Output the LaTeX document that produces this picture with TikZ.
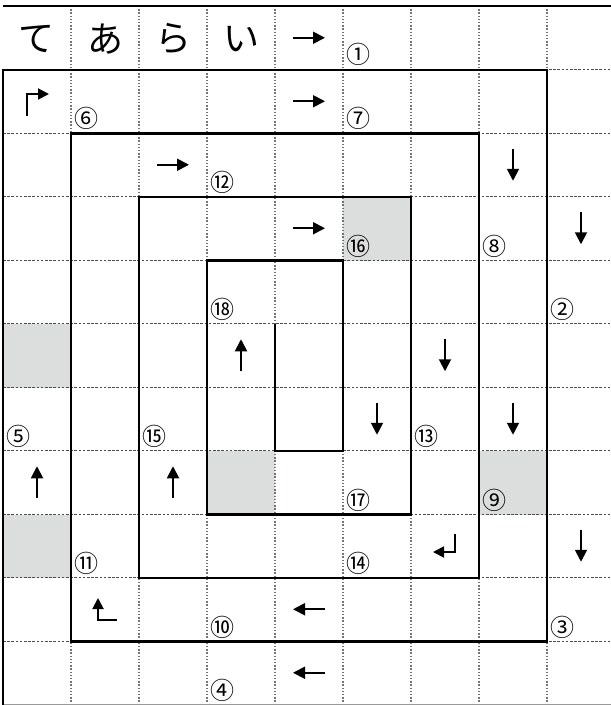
\documentclass[tikz,border=0pt]{standalone}
\usepackage{fontspec}
\setmainfont{Noto Sans CJK JP}
\usetikzlibrary{arrows.meta}
\definecolor{cellgray}{RGB}{220,221,221}
\tikzset{
  solidline/.style={line width=2.6pt, line join=miter},
  hdash/.style={line width=0.9pt, black!70, dash pattern=on 2.6pt off 1.6pt},
  vdot/.style={line width=1.5pt, black!55, dash pattern=on 1.3pt off 1.9pt},
  arr/.style={line width=1.9pt, -{Triangle[length=12pt,width=12pt]}},
  carr/.style={line width=1.9pt, line join=miter, -{Triangle[length=11pt,width=11pt]}},
  kana/.style={font=\fontsize{36}{36}\selectfont, inner sep=0pt},
  num/.style={font=\fontsize{24}{24}\selectfont, inner sep=0pt}
}
\begin{document}
\begin{tikzpicture}[x=1pt,y=-1pt]
\useasboundingbox[fill=white] (0,0) rectangle (611,705);
% shaded cells
\fill[cellgray] (343,197) rectangle (411,260.5);
\fill[cellgray] (3,324) rectangle (71,387.5);
\fill[cellgray] (3,514.5) rectangle (71,578);
\fill[cellgray] (207,451) rectangle (275,514.5);
\fill[cellgray] (479,451) rectangle (547,514.5);
% grid
\foreach \k in {1,...,10} \draw[hdash] (3,{6+63.5*\k}) -- (611,{6+63.5*\k});
\foreach \j in {0,...,7} \draw[vdot] ({71+68*\j},6) -- ({71+68*\j},705);
\draw[black!40, line width=1pt] (3,704.5) -- (611,704.5);
% solid lines
\draw[solidline] (3,6) -- (611,6);
\draw[solidline] (3,705) -- (3,70) -- (547,70) -- (547,641.5) -- (71,641.5)
  -- (71,133.5) -- (479,133.5) -- (479,578) -- (139,578) -- (139,197)
  -- (411,197) -- (411,514.5) -- (207,514.5) -- (207,260.5) -- (343,260.5)
  -- (343,451) -- (275,451) -- (275,324);
% header kana
\node[kana] (k1) at (37,39) {て};
\node[kana] (k2) at (105,39) {あ};
\node[kana] (k3) at (173,39) {ら};
\node[kana] (k4) at (241,39) {い};
% right arrows
\foreach \i/\x/\y in {1/309/37.75, 2/309/101.25, 3/173/164.75, 4/309/228.25}{
  \coordinate (R\i s) at ({\x-16},\y); \coordinate (R\i e) at ({\x+16},\y);
  \draw[arr] (R\i s) -- (R\i e);}
% left arrows
\foreach \i/\x/\y in {1/309/609.25, 2/309/672.75}{
  \coordinate (W\i s) at ({\x+16},\y); \coordinate (W\i e) at ({\x-16},\y);
  \draw[arr] (W\i s) -- (W\i e);}
% down arrows
\foreach \i/\x/\y in {1/513/164.75, 2/581/228.25, 3/445/355.25, 4/377/418.75, 5/513/418.75, 6/581/545.75}{
  \coordinate (D\i s) at (\x,{\y-16}); \coordinate (D\i e) at (\x,{\y+16});
  \draw[arr] (D\i s) -- (D\i e);}
% up arrows
\foreach \i/\x/\y in {1/241/355.25, 2/37/482.25, 3/173/482.25}{
  \coordinate (U\i s) at (\x,{\y+16}); \coordinate (U\i e) at (\x,{\y-16});
  \draw[arr] (U\i s) -- (U\i e);}
% corner arrows
\coordinate (C1s) at (27,116); \coordinate (C1m) at (27,94); \coordinate (C1e) at (49,94);
\draw[carr] (C1s) -- (C1m) -- (C1e);
\coordinate (C2s) at (455,534); \coordinate (C2m) at (455,552); \coordinate (C2e) at (433,552);
\draw[carr] (C2s) -- (C2m) -- (C2e);
\coordinate (C3s) at (117,620); \coordinate (C3m) at (98,620); \coordinate (C3e) at (98,598);
\draw[carr] (C3s) -- (C3m) -- (C3e);
% circled numbers
\foreach \t/\x/\y [count=\i] in {①/358/54.5, ⑥/86/118.5, ⑦/358/118.5, ⑫/222/182.5,
  ⑯/358/246, ⑧/494/246, ⑱/222/309.5, ②/562/309.5, ⑤/18/436.5, ⑮/154/436.5,
  ⑬/426/436.5, ⑰/358/500, ⑨/494/500, ⑪/86/563.5, ⑭/358/563.5, ⑩/222/627,
  ③/562/627, ④/222/690.5}
  \node[num] (L\i) at (\x,\y) {\t};
\end{tikzpicture}
\end{document}
